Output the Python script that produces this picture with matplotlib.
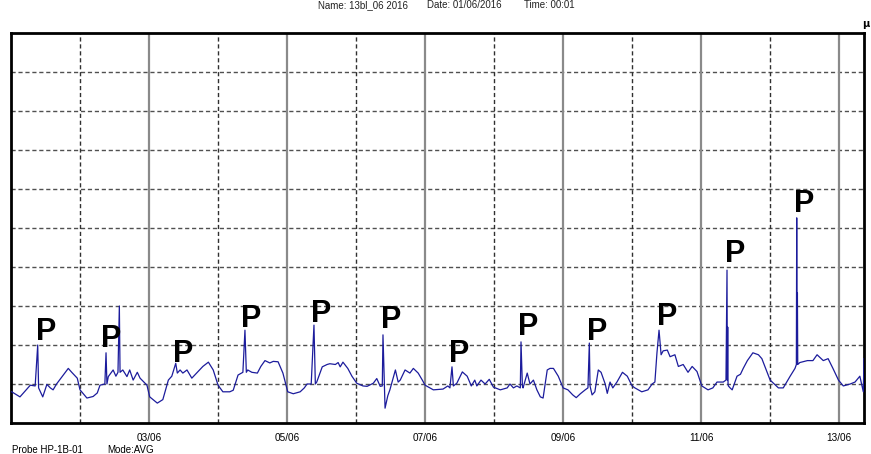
import matplotlib
matplotlib.use("Agg")
import matplotlib.pyplot as plt
import numpy as np

# time in days since 01/06/2016 00:00, signal value (arbitrary units, grid = 1)
days = [0.01, 0.13, 0.28, 0.35, 0.387, 0.40, 0.46, 0.52, 0.57, 0.61, 0.66, 0.74, 0.83, 0.88, 0.96,
        1.0, 1.10, 1.19, 1.25, 1.29, 1.36, 1.377, 1.39, 1.41, 1.48, 1.52, 1.55, 1.57, 1.58, 1.62,
        1.68, 1.72, 1.77, 1.83, 1.87, 1.97, 2.01, 2.12, 2.20, 2.28, 2.33, 2.387, 2.41, 2.45, 2.49,
        2.55, 2.62, 2.70, 2.78, 2.86, 2.93, 3.0, 3.07, 3.17, 3.22, 3.29, 3.36, 3.39, 3.41, 3.43,
        3.49, 3.57, 3.62, 3.68, 3.75, 3.80, 3.87, 3.94, 4.01, 4.09, 4.19, 4.25, 4.29, 4.35, 4.39,
        4.41, 4.43, 4.51, 4.58, 4.62, 4.70, 4.74, 4.77, 4.81, 4.88, 4.94, 5.01, 5.10, 5.16, 5.25,
        5.30, 5.35, 5.38, 5.39, 5.41, 5.42, 5.46, 5.49, 5.57, 5.61, 5.64, 5.71, 5.78, 5.83, 5.90,
        5.96, 6.0, 6.12, 6.26, 6.33, 6.36, 6.39, 6.41, 6.46, 6.54, 6.61, 6.67, 6.72, 6.75, 6.81,
        6.87, 6.93, 6.99, 7.09, 7.19, 7.23, 7.28, 7.33, 7.38, 7.39, 7.41, 7.42, 7.48, 7.52, 7.57,
        7.62, 7.67, 7.71, 7.77, 7.81, 7.86, 7.93, 8.0, 8.07, 8.14, 8.19, 8.25, 8.32, 8.36, 8.38,
        8.39, 8.42, 8.46, 8.51, 8.55, 8.58, 8.61, 8.64, 8.68, 8.72, 8.78, 8.86, 8.93, 9.0, 9.04,
        9.14, 9.23, 9.29, 9.33, 9.36, 9.39, 9.42, 9.45, 9.51, 9.55, 9.62, 9.67, 9.74, 9.81, 9.87,
        9.94, 10.01, 10.10, 10.17, 10.23, 10.32, 10.36, 10.375, 10.38, 10.385, 10.39, 10.395, 10.42,
        10.45, 10.52, 10.57, 10.61, 10.67, 10.75, 10.83, 10.88, 11.0, 11.12, 11.19, 11.29, 11.36,
        11.38, 11.385, 11.39, 11.395, 11.40, 11.43, 11.54, 11.62, 11.68, 11.77, 11.84, 11.91, 11.99,
        12.06, 12.16, 12.23, 12.30, 12.35, 12.36]
values = [0.80, 0.67, 0.97, 0.95, 2.0, 0.9, 0.67, 0.99, 0.9, 0.85, 1.0, 1.19, 1.4, 1.3, 1.15,
          0.85, 0.64, 0.68, 0.77, 0.97, 1.0, 1.8, 1.0, 1.19, 1.36, 1.2, 1.3, 3.0, 1.3, 1.36,
          1.19, 1.36, 1.1, 1.3, 1.15, 0.97, 0.67, 0.51, 0.6, 1.1, 1.2, 1.53, 1.28, 1.36, 1.28,
          1.36, 1.15, 1.3, 1.45, 1.56, 1.36, 0.97, 0.8, 0.8, 0.84, 1.23, 1.3, 2.38, 1.3, 1.36,
          1.3, 1.28, 1.45, 1.6, 1.54, 1.58, 1.57, 1.28, 0.8, 0.75, 0.8, 0.9, 1.0, 1.0, 2.51,
          1.0, 1.05, 1.44, 1.5, 1.52, 1.5, 1.55, 1.44, 1.56, 1.4, 1.2, 1.02, 0.95, 0.94, 1.02,
          1.14, 0.94, 0.95, 2.26, 1.0, 0.38, 0.7, 0.85, 1.36, 1.05, 1.1, 1.36, 1.28, 1.4, 1.28,
          1.1, 0.97, 0.85, 0.87, 0.95, 0.9, 1.44, 0.95, 1.02, 1.31, 1.2, 0.95, 1.1, 0.95, 1.1,
          1.0, 1.12, 0.92, 0.85, 0.9, 1.0, 0.9, 0.95, 0.9, 2.08, 0.95, 0.9, 1.28, 1.0, 1.1,
          0.85, 0.67, 0.64, 1.36, 1.4, 1.4, 1.2, 0.9, 0.85, 0.72, 0.65, 0.75, 0.85, 0.9, 2.05,
          0.95, 0.72, 0.8, 1.36, 1.3, 1.15, 1.0, 0.76, 1.05, 0.9, 1.05, 1.3, 1.2, 0.95, 0.9,
          0.8, 0.85, 1.0, 1.05, 1.8, 2.38, 1.75, 1.85, 1.87, 1.7, 1.75, 1.45, 1.5, 1.3, 1.45,
          1.32, 0.95, 0.85, 0.9, 1.05, 1.05, 1.1, 3.92, 1.1, 2.46, 1.0, 0.95, 0.9,
          0.85, 1.2, 1.25, 1.4, 1.6, 1.8, 1.75, 1.65, 1.1, 0.9, 0.9, 1.2, 1.4,
          1.5, 5.26, 1.5, 3.33, 1.5, 1.55, 1.6, 1.6, 1.75, 1.6, 1.65, 1.4, 1.1,
          0.95, 1.0, 1.05, 1.2, 0.8, 1.65]

# "P" markers (label centre day, label baseline value)
p_days = [0.51, 1.45, 2.49, 3.48, 4.49, 5.51, 6.49, 7.49, 8.50, 9.51, 10.49, 11.49]
p_values = [2.13, 1.95, 1.56, 2.46, 2.59, 2.44, 1.56, 2.26, 2.13, 2.51, 4.13, 5.41]

major_days = [2, 4, 6, 8, 10, 12]
major_labels = ["03/06", "05/06", "07/06", "09/06", "11/06", "13/06"]
minor_days = [1, 3, 5, 7, 9, 11]
hgrid = [1, 2, 3, 4, 5, 6, 7, 8, 9]

W, H = 871, 454
fig = plt.figure(figsize=(W / 100, H / 100), dpi=100)
fig.patch.set_facecolor("white")
ax = fig.add_axes([11 / W, 1 - 423 / H, (864 - 11) / W, (423 - 33) / H])
ax.set_xlim(0, 12.36)
ax.set_ylim(0, 10)

for y in hgrid:
    ax.axhline(y, color="#505050", lw=1.0, ls=(0, (3, 2)), zorder=1)
for x in minor_days:
    ax.axvline(x, color="#303030", lw=1.0, ls=(0, (3, 2)), zorder=1)
for x in major_days:
    ax.axvline(x, color="#8a8a8a", lw=1.6, zorder=1)

ax.plot(days, values, color="#1c1c9c", lw=0.9, zorder=3)

for d, v in zip(p_days, p_values):
    ax.text(d, v, "P", fontsize=22, fontweight="bold", family="Liberation Sans",
            ha="center", va="baseline", color="black", zorder=4)

ax.set_yticks([])
ax.set_xticks(major_days)
ax.set_xticklabels(major_labels, fontsize=7.2, family="Liberation Sans")
ax.tick_params(axis="x", length=0, pad=7)
for s in ax.spines.values():
    s.set_linewidth(2.0)
    s.set_color("black")

fig.text(318 / W, 1 - 8 / H, "Name: 13bl_06 2016", fontsize=7, family="Liberation Sans",
         ha="left", va="baseline", color="#222222")
fig.text(427 / W, 1 - 8 / H, "Date: 01/06/2016", fontsize=7, family="Liberation Sans",
         ha="left", va="baseline", color="#222222")
fig.text(524 / W, 1 - 8 / H, "Time: 00:01", fontsize=7, family="Liberation Sans",
         ha="left", va="baseline", color="#222222")
fig.text(866 / W, 1 - 27 / H, "µ", fontsize=7, fontweight="bold", family="DejaVu Sans",
         ha="center", va="baseline")
fig.text(12 / W, 1 - 453 / H, "Probe HP-1B-01", fontsize=7, family="Liberation Sans",
         ha="left", va="baseline")
fig.text(107 / W, 1 - 453 / H, "Mode:AVG", fontsize=7, family="Liberation Sans",
         ha="left", va="baseline")

fig.savefig("out.png", dpi=100)
